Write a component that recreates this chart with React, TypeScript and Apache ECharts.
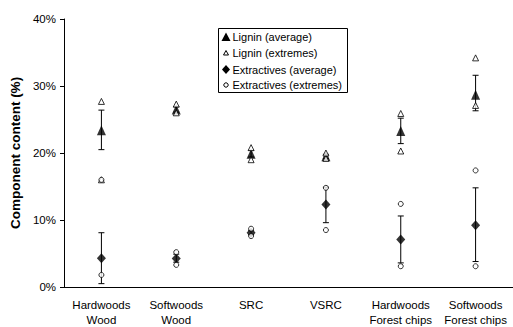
import React, { useEffect, useRef } from "react";
import * as echarts from "echarts";

const categories = [
  "Hardwoods\nWood",
  "Softwoods\nWood",
  "SRC",
  "VSRC",
  "Hardwoods\nForest chips",
  "Softwoods\nForest chips",
];
const ligninAvg = [23.4, 26.5, 19.9, 19.5, 23.3, 28.7];
const ligninErrLow = [20.5, 26.1, 19.4, 19.2, 21.4, 26.3];
const ligninErrHigh = [26.4, 26.9, 20.4, 19.8, 25.2, 31.6];
const ligninMin = [16.0, 26.0, 19.0, 19.2, 20.3, 27.1];
const ligninMax = [27.7, 27.3, 20.8, 20.0, 25.9, 34.2];
const extrAvg = [4.3, 4.25, 8.1, 12.3, 7.1, 9.2];
const extrErrLow = [0.5, 3.7, 7.8, 9.6, 3.6, 3.8];
const extrErrHigh = [8.1, 4.9, 8.4, 14.9, 10.6, 14.8];
const extrMin = [1.8, 3.3, 7.6, 8.5, 3.1, 3.1];
const extrMax = [16.0, 5.2, 8.7, 14.8, 12.4, 17.4];
const yTicks = [0, 10, 20, 30, 40];

const legendItems = [
  "Lignin (average)",
  "Lignin (extremes)",
  "Extractives (average)",
  "Extractives (extremes)",
];

const FONT = "'Liberation Sans', Arial, sans-serif";

function errRender(params: any, api: any) {
  const x = api.value(0);
  const lo = api.coord([x, api.value(1)]);
  const hi = api.coord([x, api.value(2)]);
  const hw = 3;
  const style = { stroke: "#000", lineWidth: 1 };
  return {
    type: "group",
    children: [
      { type: "line", shape: { x1: lo[0], y1: lo[1], x2: hi[0], y2: hi[1] }, style },
      { type: "line", shape: { x1: lo[0] - hw, y1: lo[1], x2: lo[0] + hw, y2: lo[1] }, style },
      { type: "line", shape: { x1: hi[0] - hw, y1: hi[1], x2: hi[0] + hw, y2: hi[1] }, style },
    ],
  };
}

export default function App() {
  const ref = useRef<HTMLDivElement>(null);
  useEffect(() => {
    if (!ref.current) return;
    const chart = echarts.init(ref.current, undefined, { renderer: "svg" });
    const pairs = (arr: number[]) => arr.map((v, i) => [i, v]);
    const errData = (lo: number[], hi: number[]) => lo.map((v, i) => [i, v, hi[i]]);
    const lx = 226;
    const ly = [37, 53, 69.5, 85];
    const option: any = {
      animation: false,
      backgroundColor: "#fff",
      textStyle: { fontFamily: FONT },
      grid: { left: 61, top: 19, width: 456, height: 270, containLabel: false },
      xAxis: {
        type: "category",
        data: categories,
        boundaryGap: true,
        axisLine: { lineStyle: { color: "#000", width: 1 } },
        axisTick: { length: 4, lineStyle: { color: "#000" }, alignWithLabel: false },
        axisLabel: {
          color: "#000",
          fontSize: 11.5,
          fontFamily: FONT,
          lineHeight: 14.5,
          margin: 11,
          interval: 0,
        },
        splitLine: { show: false },
      },
      yAxis: {
        type: "value",
        min: yTicks[0],
        max: yTicks[yTicks.length - 1],
        interval: 10,
        name: "Component content (%)",
        nameLocation: "middle",
        nameGap: 42,
        nameTextStyle: { color: "#000", fontSize: 13.5, fontWeight: "bold", fontFamily: FONT },
        axisLine: { show: true, lineStyle: { color: "#000", width: 1 } },
        axisTick: { show: true, length: 4, lineStyle: { color: "#000" } },
        axisLabel: { color: "#000", fontSize: 11.5, fontFamily: FONT, formatter: "{value}%", margin: 8 },
        splitLine: { show: false },
      },
      series: [
        {
          type: "custom",
          name: "ligninErr",
          renderItem: errRender,
          encode: { x: 0, y: [1, 2] },
          data: errData(ligninErrLow, ligninErrHigh),
          z: 1,
        },
        {
          type: "custom",
          name: "extrErr",
          renderItem: errRender,
          encode: { x: 0, y: [1, 2] },
          data: errData(extrErrLow, extrErrHigh),
          z: 1,
        },
        {
          type: "scatter",
          name: legendItems[0],
          symbol: "triangle",
          symbolSize: [9, 10],
          itemStyle: { color: "#000" },
          data: pairs(ligninAvg),
          z: 2,
        },
        {
          type: "scatter",
          name: legendItems[2],
          symbol: "diamond",
          symbolSize: [9, 10],
          itemStyle: { color: "#000" },
          data: pairs(extrAvg),
          z: 2,
        },
        {
          type: "scatter",
          name: legendItems[1],
          symbol: "triangle",
          symbolSize: 6,
          itemStyle: { color: "#fff", borderColor: "#000", borderWidth: 1 },
          data: [...pairs(ligninMin), ...pairs(ligninMax)],
          z: 3,
        },
        {
          type: "scatter",
          name: legendItems[3],
          symbol: "circle",
          symbolSize: 5,
          itemStyle: { color: "#fff", borderColor: "#000", borderWidth: 1 },
          data: [...pairs(extrMin), ...pairs(extrMax)],
          z: 3,
        },
      ],
      graphic: [
        {
          type: "rect",
          shape: { x: 218.5, y: 28.5, width: 129, height: 64 },
          style: { fill: "#fff", stroke: "#000", lineWidth: 1 },
          z: 10,
        },
        {
          type: "polygon",
          shape: { points: [[lx, ly[0] - 4.5], [lx + 4.5, ly[0] + 4], [lx - 4.5, ly[0] + 4]] },
          style: { fill: "#000" },
          z: 11,
        },
        {
          type: "polygon",
          shape: { points: [[lx, ly[1] - 2.5], [lx + 2.5, ly[1] + 2], [lx - 2.5, ly[1] + 2]] },
          style: { fill: "#fff", stroke: "#000", lineWidth: 1 },
          z: 11,
        },
        {
          type: "polygon",
          shape: { points: [[lx, ly[2] - 4.5], [lx + 4, ly[2]], [lx, ly[2] + 4.5], [lx - 4, ly[2]]] },
          style: { fill: "#000" },
          z: 11,
        },
        {
          type: "circle",
          shape: { cx: lx, cy: ly[3], r: 2.2 },
          style: { fill: "#fff", stroke: "#000", lineWidth: 1 },
          z: 11,
        },
        ...legendItems.map((t, i) => ({
          type: "text",
          x: 232.5,
          y: ly[i],
          style: {
            text: t,
            fill: "#000",
            font: `11px ${FONT}`,
            textVerticalAlign: "middle",
            verticalAlign: "middle",
          },
          z: 11,
        })),
      ],
    };
    chart.setOption(option);
    return () => chart.dispose();
  }, []);
  return (
    <div
      ref={ref}
      style={{ position: "fixed", left: 0, top: 0, width: 513, height: 327 }}
    />
  );
}
